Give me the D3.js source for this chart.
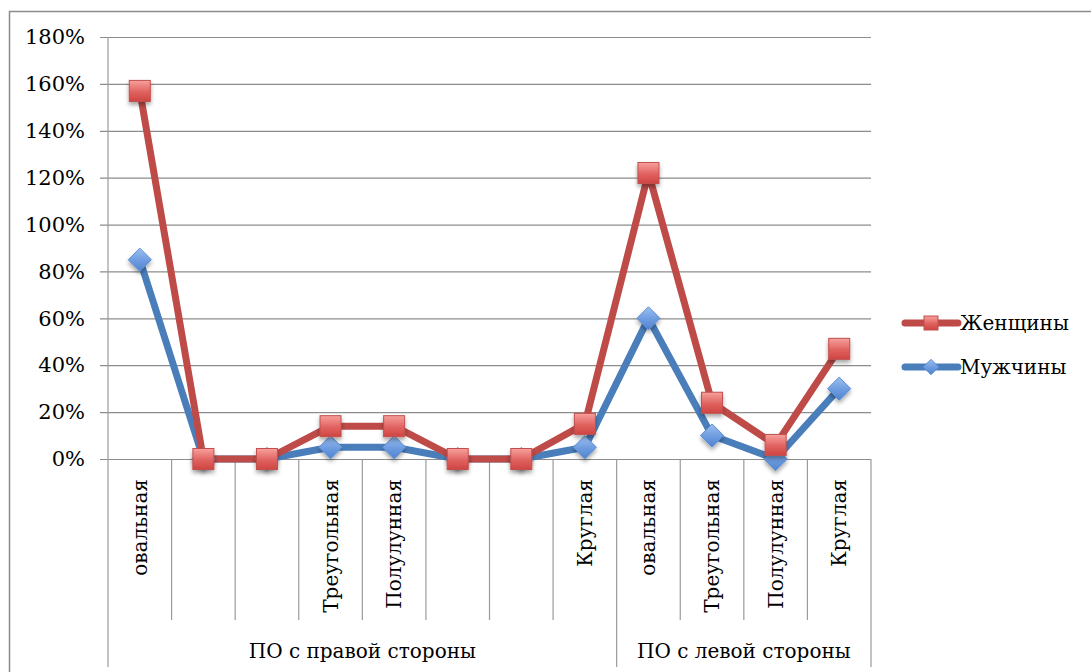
<!DOCTYPE html>
<html>
<head>
<meta charset="utf-8">
<script src="https://cdn.jsdelivr.net/npm/d3@7"></script>
<style>
  body { margin: 0; background: #fff; }
  text { font-family: "DejaVu Serif", "Liberation Serif", serif; fill: #000; }
</style>
</head>
<body>
<div id="chart"></div>
<script>
// Categories (level 1) and groups (level 2)
const categories = ["овальная", "", "", "Треугольная", "Полулунная", "", "", "Круглая",
                    "овальная", "Треугольная", "Полулунная", "Круглая"];
const groups = [
  { name: "ПО с правой стороны", start: 0, end: 8 },
  { name: "ПО с левой стороны", start: 8, end: 12 }
];
const women = [1.57, 0, 0, 0.14, 0.14, 0, 0, 0.15, 1.22, 0.24, 0.06, 0.47];
const men = [0.85, 0, 0, 0.05, 0.05, 0, 0, 0.05, 0.60, 0.10, 0, 0.30];
const yTicks = [0, 0.2, 0.4, 0.6, 0.8, 1.0, 1.2, 1.4, 1.6, 1.8];

const W = 1091, H = 672;
const plot = { left: 108, right: 871, top: 37, bottom: 459 };

const svg = d3.select("#chart").append("svg")
  .attr("width", W)
  .attr("height", H);

const defs = svg.append("defs");
const redGrad = defs.append("linearGradient").attr("id", "redGrad")
  .attr("x1", 0).attr("y1", 0).attr("x2", 0).attr("y2", 1);
redGrad.append("stop").attr("offset", "0%").attr("stop-color", "#f7a09d");
redGrad.append("stop").attr("offset", "55%").attr("stop-color", "#e0625f");
redGrad.append("stop").attr("offset", "100%").attr("stop-color", "#cf4542");
const blueGrad = defs.append("linearGradient").attr("id", "blueGrad")
  .attr("x1", 0).attr("y1", 0).attr("x2", 0).attr("y2", 1);
blueGrad.append("stop").attr("offset", "0%").attr("stop-color", "#9cc0ee");
blueGrad.append("stop").attr("offset", "55%").attr("stop-color", "#6d9be0");
blueGrad.append("stop").attr("offset", "100%").attr("stop-color", "#4f83cf");
const shadow = defs.append("filter").attr("id", "shadow")
  .attr("x", "-50%").attr("y", "-50%").attr("width", "200%").attr("height", "200%");
shadow.append("feDropShadow").attr("dx", 0).attr("dy", 3).attr("stdDeviation", 2)
  .attr("flood-color", "#000").attr("flood-opacity", 0.35);

// Outer chart border (runs off the right and bottom of the picture)
svg.append("rect")
  .attr("x", 9.5).attr("y", 11.5)
  .attr("width", W + 20).attr("height", H + 20)
  .attr("fill", "none")
  .attr("stroke", "#8c8c8c")
  .attr("stroke-width", 1.5);

// Scales
const x = d3.scaleBand()
  .domain(d3.range(categories.length))
  .range([plot.left, plot.right])
  .paddingInner(0).paddingOuter(0);
const bw = x.bandwidth();
const cx = i => x(i) + bw / 2;

const y = d3.scaleLinear()
  .domain([0, 1.8])
  .range([plot.bottom, plot.top]);

// Horizontal gridlines + y labels
const yAxis = d3.axisLeft(y)
  .tickValues(yTicks)
  .tickFormat(d3.format(".0%"))
  .tickSize(-(plot.right - plot.left + 8))
  .tickPadding(16);

const gy = svg.append("g")
  .attr("transform", `translate(${plot.left - 8},0)`)
  .call(yAxis);
gy.select(".domain").remove();
gy.selectAll(".tick line").attr("stroke", "#8c8c8c").attr("stroke-width", 1.2);
gy.selectAll(".tick text")
  .attr("font-size", 21)
  .attr("x", -15);

// Vertical axis line
const grid = svg.append("g").attr("stroke", "#9a9a9a").attr("stroke-width", 1.2);
grid.append("line")
  .attr("x1", plot.left).attr("x2", plot.left)
  .attr("y1", plot.top).attr("y2", 667);

// Category separators
d3.range(1, categories.length + 1).forEach(i => {
  const xx = i < categories.length ? x(i) : plot.right;
  const isGroupEdge = groups.some(g => g.end === i);
  grid.append("line")
    .attr("x1", xx).attr("x2", xx)
    .attr("y1", plot.bottom)
    .attr("y2", isGroupEdge ? 667 : 620);
});

// Category labels (rotated)
svg.append("g")
  .selectAll("text")
  .data(categories)
  .join("text")
  .attr("transform", (d, i) => `translate(${cx(i)},${plot.bottom + 20}) rotate(-90)`)
  .attr("text-anchor", "end")
  .attr("dy", "0.35em")
  .attr("font-size", 20)
  .text(d => d);

// Group labels
svg.append("g")
  .selectAll("text")
  .data(groups)
  .join("text")
  .attr("x", g => (x(g.start) + (g.end < categories.length ? x(g.end) : plot.right)) / 2)
  .attr("y", 658)
  .attr("text-anchor", "middle")
  .attr("font-size", 20)
  .text(g => g.name);

// Lines
const line = d3.line()
  .x((d, i) => cx(i))
  .y(d => y(d));

const series = [
  { name: "Мужчины", values: men, color: "#4a7ebb", marker: "diamond" },
  { name: "Женщины", values: women, color: "#be4b48", marker: "square" }
];

function drawMarker(g, type, size) {
  if (type === "square") {
    g.append("rect")
      .attr("x", -size / 2).attr("y", -size / 2)
      .attr("width", size).attr("height", size)
      .attr("fill", "url(#redGrad)")
      .attr("stroke", "#c0504d")
      .attr("stroke-width", 1);
  } else {
    const s = size * 0.55;
    g.append("path")
      .attr("d", `M0,${-s}L${s},0L0,${s}L${-s},0Z`)
      .attr("fill", "url(#blueGrad)")
      .attr("stroke", "#5b8fd6")
      .attr("stroke-width", 1);
  }
}

series.forEach(s => {
  svg.append("path")
    .datum(s.values)
    .attr("d", line)
    .attr("fill", "none")
    .attr("stroke", s.color)
    .attr("stroke-width", 7)
    .attr("stroke-linejoin", "round");
});

series.forEach(s => {
  svg.append("g")
    .selectAll("g")
    .data(s.values)
    .join("g")
    .attr("transform", (d, i) => `translate(${cx(i)},${y(d)})`)
    .attr("filter", "url(#shadow)")
    .each(function () { drawMarker(d3.select(this), s.marker, 21); });
});

// Legend
const legendItems = [series[1], series[0]];
const legend = svg.append("g");
legendItems.forEach((s, i) => {
  const ly = 323 + i * 44;
  const g = legend.append("g");
  g.append("line")
    .attr("x1", 905).attr("x2", 958)
    .attr("y1", ly).attr("y2", ly)
    .attr("stroke", s.color)
    .attr("stroke-width", 7)
    .attr("stroke-linecap", "round");
  const m = g.append("g").attr("transform", `translate(931,${ly})`);
  drawMarker(m, s.marker, 14);
  g.append("text")
    .attr("x", 960)
    .attr("y", ly)
    .attr("dy", "0.35em")
    .attr("font-size", 20)
    .text(s.name);
});
</script>
</body>
</html>
